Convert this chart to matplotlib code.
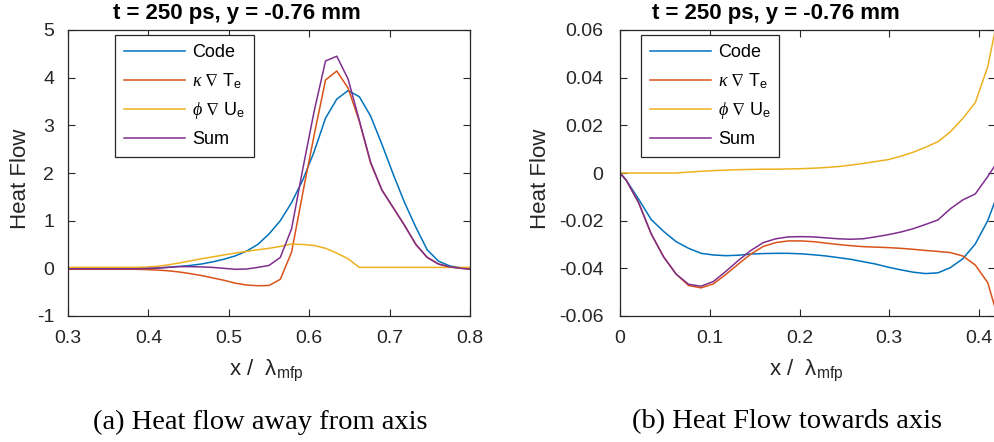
import matplotlib
matplotlib.use('Agg')
import matplotlib.pyplot as plt

plt.rcParams['font.family'] = ['Liberation Sans', 'DejaVu Sans']
plt.rcParams['mathtext.fontset'] = 'custom'
plt.rcParams['mathtext.rm'] = 'Liberation Sans'
plt.rcParams['mathtext.sf'] = 'Liberation Sans'
plt.rcParams['mathtext.it'] = 'Liberation Serif:italic'
plt.rcParams['mathtext.fallback'] = 'stix'

# ---------------- data: panel (a) ----------------
x_a = [0.2971, 0.3111, 0.3252, 0.3392, 0.3533, 0.3673, 0.3814, 0.3954, 0.4095,
       0.4236, 0.4376, 0.4517, 0.4657, 0.4798, 0.4938, 0.5079, 0.5219, 0.5360,
       0.5500, 0.5641, 0.5781, 0.5922, 0.6062, 0.6203, 0.6343, 0.6484, 0.6624,
       0.6765, 0.6905, 0.7046, 0.7186, 0.7327, 0.7467, 0.7608, 0.7748, 0.7889,
       0.8029]
code_a = [-0.005, -0.005, -0.005, -0.005, -0.005, -0.005, -0.003, 0.0, 0.005,
          0.02, 0.04, 0.06, 0.09, 0.135, 0.19, 0.26, 0.36, 0.5,
          0.72, 1.0, 1.38, 1.86, 2.45, 3.15, 3.55, 3.73, 3.6,
          3.19, 2.6, 1.97, 1.38, 0.86, 0.39, 0.15, 0.05, 0.01,
          -0.01]
kappa_a = [-0.02, -0.02, -0.02, -0.02, -0.02, -0.02, -0.02, -0.025, -0.035,
           -0.05, -0.075, -0.11, -0.15, -0.2, -0.25, -0.31, -0.35, -0.365,
           -0.36, -0.23, 0.34, 1.6, 2.8, 3.95, 4.14, 3.78, 3.08,
           2.2, 1.64, 1.27, 0.9, 0.5, 0.23, 0.09, 0.03, 0.0,
           -0.02]
phi_a = [0.02, 0.02, 0.02, 0.02, 0.02, 0.02, 0.02, 0.025, 0.04,
         0.07, 0.11, 0.155, 0.2, 0.24, 0.28, 0.32, 0.355, 0.39,
         0.42, 0.46, 0.51, 0.5, 0.48, 0.42, 0.32, 0.2, 0.02,
         0.02, 0.02, 0.02, 0.02, 0.02, 0.02, 0.02, 0.02, 0.02,
         0.02]
sum_a = [-0.01, -0.01, -0.01, -0.01, -0.01, -0.01, -0.01, -0.005, 0.005,
         0.02, 0.035, 0.035, 0.03, 0.02, 0.0, -0.02, -0.015, 0.02,
         0.06, 0.23, 0.83, 2.1, 3.3, 4.35, 4.45, 3.97, 3.1,
         2.22, 1.64, 1.27, 0.9, 0.5, 0.23, 0.09, 0.03, 0.0,
         -0.02]

# ---------------- data: panel (b) ----------------
x_b = [0.0, 0.0069, 0.0208, 0.0347, 0.0486, 0.0625, 0.0764, 0.0903, 0.1042,
       0.1181, 0.1319, 0.1458, 0.1597, 0.1736, 0.1875, 0.2014, 0.2153, 0.2292,
       0.2431, 0.2569, 0.2708, 0.2847, 0.2986, 0.3125, 0.3264, 0.3403, 0.3542,
       0.3681, 0.3819, 0.3958, 0.4097, 0.4236]
code_b = [0.0, -0.003, -0.011, -0.0195, -0.0245, -0.0288, -0.0316, -0.0337, -0.0344,
          -0.0347, -0.0345, -0.0340, -0.0338, -0.0337, -0.0337, -0.0339, -0.0343, -0.0348,
          -0.0355, -0.0362, -0.0372, -0.0382, -0.0395, -0.0406, -0.0416, -0.0422, -0.0419,
          -0.0397, -0.0360, -0.0298, -0.0200, -0.0060]
kappa_b = [0.0, -0.003, -0.0125, -0.0255, -0.0352, -0.0424, -0.0472, -0.0482, -0.0465,
           -0.0425, -0.0382, -0.0340, -0.0308, -0.0292, -0.0285, -0.0285, -0.0288, -0.0294,
           -0.0300, -0.0305, -0.0309, -0.0311, -0.0313, -0.0316, -0.0320, -0.0325, -0.0329,
           -0.0334, -0.0348, -0.0386, -0.0460, -0.0640]
phi_b = [0.0, 0.0, 0.0, 0.0, 0.0, 0.0, 0.0004, 0.0007, 0.001,
         0.0012, 0.0014, 0.0015, 0.0016, 0.0016, 0.0017, 0.0018, 0.002, 0.0023,
         0.0027, 0.0033, 0.004, 0.0048, 0.0056, 0.007, 0.0087, 0.0108, 0.0131,
         0.0173, 0.0229, 0.0295, 0.0446, 0.070]
sum_b = [0.0, -0.003, -0.0125, -0.0255, -0.0352, -0.0424, -0.0467, -0.0475, -0.0455,
         -0.0412, -0.0367, -0.0325, -0.0292, -0.0276, -0.0268, -0.0267, -0.0268, -0.0272,
         -0.0276, -0.0278, -0.0276, -0.0268, -0.0259, -0.0248, -0.0234, -0.0216, -0.0197,
         -0.0150, -0.0113, -0.0088, -0.0015, 0.0065]

labels = ['Code', r'$\kappa\ \nabla\ \mathrm{T}_{\mathrm{e}}$',
          r'$\phi\ \nabla\ \mathrm{U}_{\mathrm{e}}$', 'Sum']
colors = ['#0072BD', '#D95319', '#EDB120', '#7E2F8E']

xticks_a = [0.3, 0.4, 0.5, 0.6, 0.7, 0.8]
yticks_a = [-1, 0, 1, 2, 3, 4, 5]
xticks_b = [0, 0.1, 0.2, 0.3, 0.4]
yticks_b = [-0.06, -0.04, -0.02, 0, 0.02, 0.04, 0.06]
ytl_b = ['-0.06', '-0.04', '-0.02', '0', '0.02', '0.04', '0.06']
xtl_b = ['0', '0.1', '0.2', '0.3', '0.4']
xtl_a = ['0.3', '0.4', '0.5', '0.6', '0.7', '0.8']
ytl_a = ['-1', '0', '1', '2', '3', '4', '5']

title = 't = 250 ps, y = -0.76 mm'
cap_a = '(a) Heat flow away from axis'
cap_b = '(b) Heat Flow towards axis'

W, H = 995, 442
fig = plt.figure(figsize=(W / 100, H / 100), dpi=100)

axc = '#262626'


def make_ax(rect, xs, series, xlim, ylim, xt, xtl, yt, ytl, leg_anchor, ypad):
    ax = fig.add_axes(rect)
    for ys, c, lab in zip(series, colors, labels):
        ax.plot(xs, ys, color=c, lw=1.1, label=lab)
    ax.set_xlim(*xlim)
    ax.set_ylim(*ylim)
    ax.set_xticks(xt)
    ax.set_xticklabels(xtl)
    ax.set_yticks(yt)
    ax.set_yticklabels(ytl)
    ax.tick_params(direction='in', length=5, width=0.8, colors=axc,
                   labelsize=14, top=True, right=True)
    ax.tick_params(axis='y', pad=ypad)
    ax.tick_params(axis='x', pad=10)
    for s in ax.spines.values():
        s.set_color(axc)
        s.set_linewidth(0.9)
    leg = ax.legend(loc='upper left', bbox_to_anchor=leg_anchor,
                    borderaxespad=0, fontsize=13, handlelength=3.4,
                    handletextpad=0.35, borderpad=0.5, labelspacing=0.55,
                    fancybox=False, framealpha=1, edgecolor=axc)
    leg.get_frame().set_linewidth(0.9)
    for t in leg.get_texts():
        t.set_color('black')
    return ax


def fx(px):
    return px / W


def fy(py):
    return 1 - py / H


ax1 = make_ax([fx(68), fy(316), fx(470 - 68), (316 - 30) / H], x_a,
              [code_a, kappa_a, phi_a, sum_a], (0.3, 0.8), (-1, 5),
              xticks_a, xtl_a, yticks_a, ytl_a, (0.117, 0.983), 10)
ax2 = make_ax([fx(620), fy(316), fx(995 - 620), (316 - 30) / H], x_b,
              [code_b, kappa_b, phi_b, sum_b], (0, 0.4178), (-0.06, 0.06),
              xticks_b, xtl_b, yticks_b, ytl_b, (0.056, 0.983), 12)

# titles
fig.text(fx(237), fy(13), title, ha='center', va='center',
         fontsize=16, fontweight='bold')
fig.text(fx(776), fy(13), title, ha='center', va='center',
         fontsize=16, fontweight='bold')

# y labels
fig.text(fx(21), fy(179), 'Heat Flow', rotation=90, ha='center', va='center',
         fontsize=16, color=axc)
fig.text(fx(541), fy(179), 'Heat Flow', rotation=90, ha='center', va='center',
         fontsize=16, color=axc)

# x labels
xl = r'x /  $\mathrm{\lambda}_{\mathrm{mfp}}$'
fig.text(fx(266), fy(370), xl, ha='center', va='center', fontsize=16, color=axc)
fig.text(fx(806), fy(370), xl, ha='center', va='center', fontsize=16, color=axc)

# captions
fig.text(fx(260), fy(422), cap_a, ha='center', va='center', fontsize=20.5,
         family='Liberation Serif')
fig.text(fx(787), fy(422), cap_b, ha='center', va='center', fontsize=20.5,
         family='Liberation Serif')

fig.savefig('out.png', dpi=100)
